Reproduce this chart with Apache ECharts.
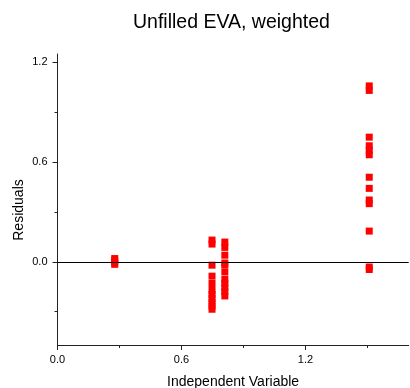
<!DOCTYPE html>
<html>
<head>
<meta charset="utf-8">
<script src="https://cdn.jsdelivr.net/npm/echarts@6/dist/echarts.min.js"></script>
<style>html,body{margin:0;padding:0;background:#fff}#c{width:410px;height:388px}</style>
</head>
<body>
<div id="c"></div>
<script>
// Data
const clusterX = [0.277, 0.748, 0.81, 1.509];
const cluster1Y = [0.02, 0.01, -0.005, -0.015];
const cluster2Y = [0.131, 0.107, -0.02, -0.086, -0.13, -0.172, -0.196, -0.22, -0.244, -0.265, -0.285];
const cluster3Y = [0.119, 0.087, 0.04, -0.007, -0.019, -0.061, -0.106, -0.13, -0.154, -0.178, -0.205];
const cluster4Y = [1.058, 1.031, 0.75, 0.698, 0.671, 0.644, 0.509, 0.442, 0.372, 0.35, 0.185, -0.031, -0.046];
const xMajorTicks = [0, 0.6, 1.2];
const xMinorTicks = [0.3, 0.9, 1.5];
const yMajorTicks = [0, 0.6, 1.2];
const yMinorTicks = [-0.3, 0.3, 0.9];

const groups = [cluster1Y, cluster2Y, cluster3Y, cluster4Y];
const points = [];
groups.forEach((ys, i) => ys.forEach(y => points.push([clusterX[i], y])));

const FONT = 'Liberation Sans, Arial, sans-serif';
const axisColor = '#222';
const chart = echarts.init(document.getElementById('c'));
const fmt = v => v.toFixed(1);

chart.setOption({
  animation: false,
  title: {
    text: 'Unfilled EVA, weighted',
    left: 133, top: 13, padding: 0,
    textStyle: { fontFamily: FONT, fontSize: 19.5, fontWeight: 'normal', color: '#000' }
  },
  grid: { left: 57.5, right: 1.3, top: 54, bottom: 43, outerBoundsMode: 'none', containLabel: false },
  xAxis: [{
    type: 'value', min: 0, max: 1.7,
    name: 'Independent Variable', nameLocation: 'middle', nameGap: 30, nameMoveOverlap: false,
    nameTextStyle: { fontFamily: FONT, fontSize: 14, color: '#000' },
    axisLine: { show: true, onZero: false, lineStyle: { color: axisColor, width: 1 } },
    axisTick: { show: true, length: 5, customValues: xMajorTicks, lineStyle: { color: axisColor } },
    axisLabel: { customValues: xMajorTicks, formatter: fmt, margin: 9, fontFamily: FONT, fontSize: 11, color: '#000' },
    splitLine: { show: false }
  }, {
    type: 'value', min: 0, max: 1.7, position: 'bottom',
    axisLine: { show: false, onZero: false },
    axisTick: { show: true, length: 3, customValues: xMinorTicks, lineStyle: { color: axisColor } },
    axisLabel: { show: false },
    splitLine: { show: false }
  }],
  yAxis: [{
    type: 'value', min: -0.5, max: 1.25,
    name: 'Residuals', nameLocation: 'middle', nameGap: 31, nameMoveOverlap: false,
    nameTextStyle: { fontFamily: FONT, fontSize: 14, color: '#000', padding: [0, 21, 0, 0] },
    axisLine: { show: true, onZero: false, lineStyle: { color: axisColor, width: 1 } },
    axisTick: { show: true, length: 5, customValues: yMajorTicks, lineStyle: { color: axisColor } },
    axisLabel: { customValues: yMajorTicks, formatter: fmt, margin: 10, fontFamily: FONT, fontSize: 11, color: '#000' },
    splitLine: { show: false }
  }, {
    type: 'value', min: -0.5, max: 1.25, position: 'left',
    axisLine: { show: false, onZero: false },
    axisTick: { show: true, length: 3, customValues: yMinorTicks, lineStyle: { color: axisColor } },
    axisLabel: { show: false },
    splitLine: { show: false }
  }],
  series: [{
    type: 'scatter',
    xAxisIndex: 0, yAxisIndex: 0,
    data: points,
    symbol: 'rect',
    symbolSize: 7,
    itemStyle: { color: '#ff0000', opacity: 1 },
    markLine: {
      silent: true, symbol: 'none',
      label: { show: false },
      lineStyle: { color: '#000', width: 1, type: 'solid' },
      data: [{ yAxis: 0 }]
    }
  }]
});
</script>
</body>
</html>
